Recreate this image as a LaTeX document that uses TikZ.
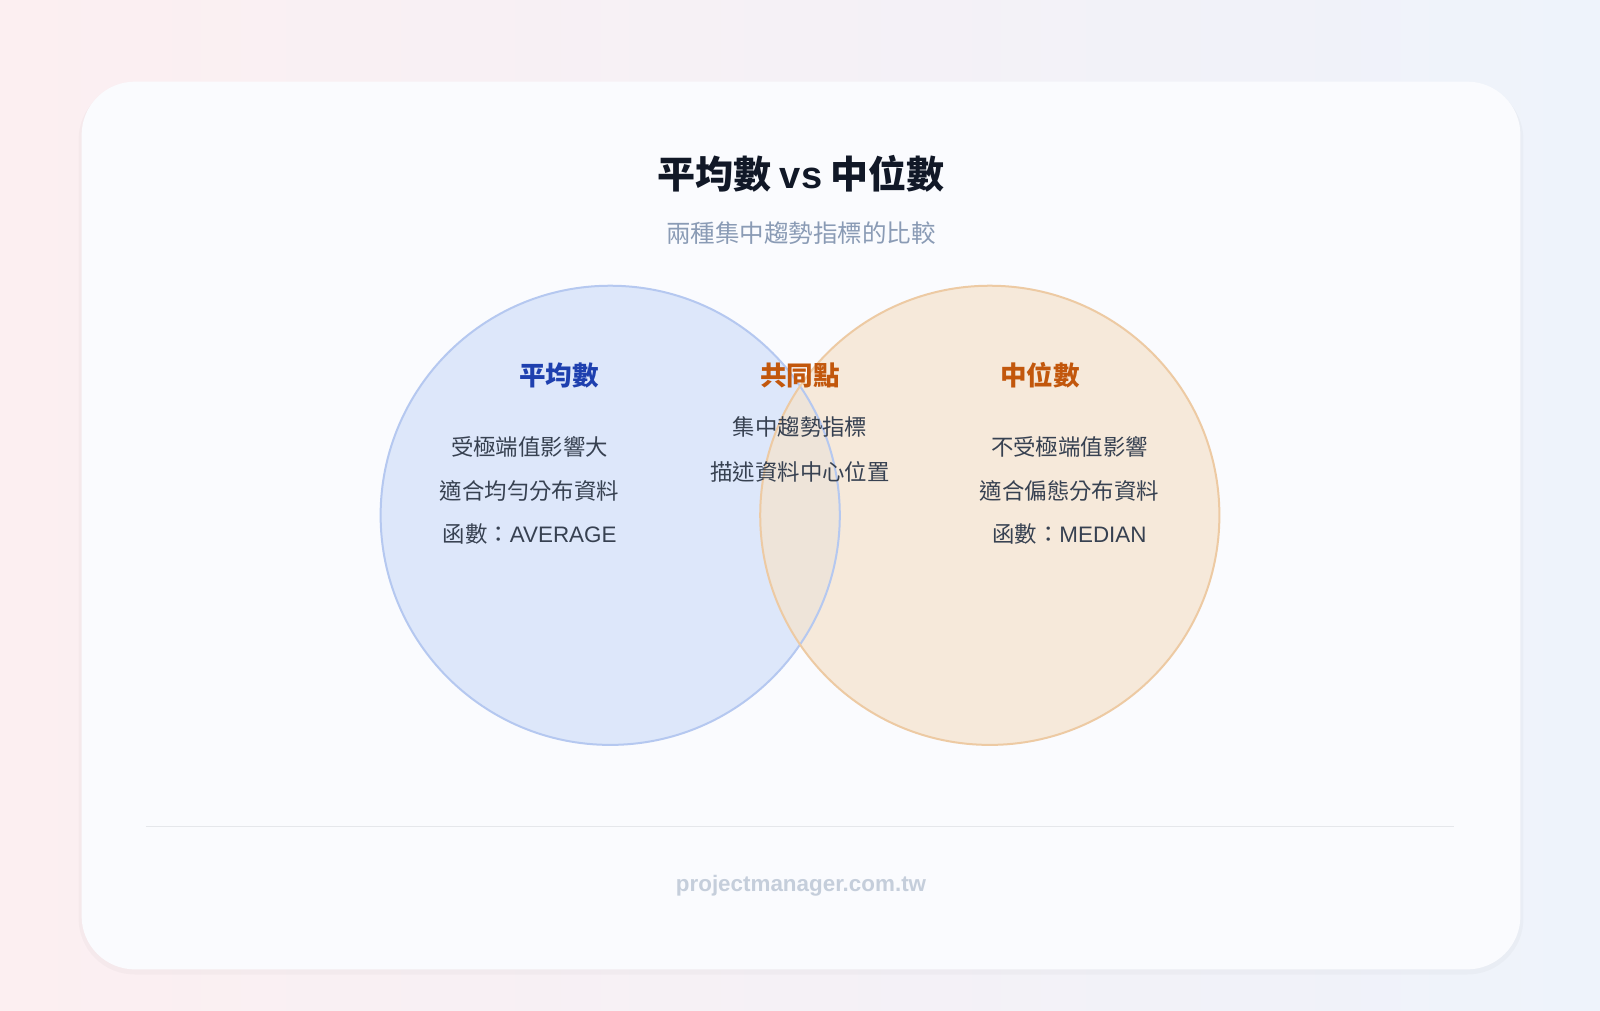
\documentclass[tikz,border=0pt]{standalone}
\usepackage{fontspec}
\setmainfont{Noto Sans CJK TC}
\newfontfamily\latinfont{Liberation Sans}
\definecolor{bgpink}{HTML}{FCEFF1}
\definecolor{bgblue}{HTML}{EEF3FB}
\definecolor{cardfill}{HTML}{FAFBFE}
\definecolor{titleink}{HTML}{111827}
\definecolor{subink}{HTML}{8A9BB5}
\definecolor{bodyink}{HTML}{374151}
\definecolor{meanblue}{HTML}{1E40AF}
\definecolor{medorange}{HTML}{C2570C}
\definecolor{meanfill}{HTML}{D6E2FA}
\definecolor{meanedge}{HTML}{B5C8F0}
\definecolor{medfill}{HTML}{F5E3CF}
\definecolor{mededge}{HTML}{EDCAA3}
\definecolor{ruleink}{HTML}{E5E7EB}
\definecolor{footink}{HTML}{C5CEDB}
\begin{document}
\begin{tikzpicture}[x=0.7653pt,y=-0.7653pt,
  head/.style={font=\fontsize{19.9}{22}\selectfont\bfseries},
  body/.style={font=\fontsize{16.8}{20}\selectfont, text=bodyink, align=center}]
  % background
  \shade[left color=bgpink, right color=bgblue] (0,0) rectangle (1568,990);
  \useasboundingbox (0,0) rectangle (1568,990);
  % card
  \fill[black, opacity=0.025, rounded corners=42pt] (77,82) rectangle (1493,955);
  \fill[cardfill, rounded corners=40pt] (80,80) rectangle (1490,950);
  % titles
  \node[font=\fontsize{28.5}{32}\selectfont\bfseries, text=titleink] (title) at (785,170) {平均數 {\latinfont vs} 中位數};
  \node[font=\fontsize{18.4}{22}\selectfont, text=subink] (subtitle) at (785,228) {兩種集中趨勢指標的比較};
  % circles
  \fill[meanfill, opacity=0.8] (598,505) circle (225);
  \fill[medfill, opacity=0.75] (970,505) circle (225);
  \draw[meanedge, line width=1.5pt] (598,505) circle (225);
  \draw[mededge, line width=1.5pt] (970,505) circle (225);
  % left
  \node[head, text=meanblue] (meanhead) at (548,368) {平均數};
  \node[body] (mean1) at (519,438) {受極端值影響大};
  \node[body] (mean2) at (519,481) {適合均勻分布資料};
  \node[body] (mean3) at (519,523) {函數：{\latinfont AVERAGE}};
  % middle
  \node[head, text=medorange] (commonhead) at (784,368) {共同點};
  \node[body] (common1) at (784,418) {集中趨勢指標};
  \node[body] (common2) at (784,462) {描述資料中心位置};
  % right
  \node[head, text=medorange] (medhead) at (1019,368) {中位數};
  \node[body] (med1) at (1048,438) {不受極端值影響};
  \node[body] (med2) at (1048,481) {適合偏態分布資料};
  \node[body] (med3) at (1048,523) {函數：{\latinfont MEDIAN}};
  % footer
  \draw[ruleink, line width=0.8pt] (143,810) -- (1425,810);
  \node[font=\fontsize{16.8}{20}\selectfont\bfseries\latinfont, text=footink] (footer) at (785,868) {projectmanager.com.tw};
\end{tikzpicture}
\end{document}
